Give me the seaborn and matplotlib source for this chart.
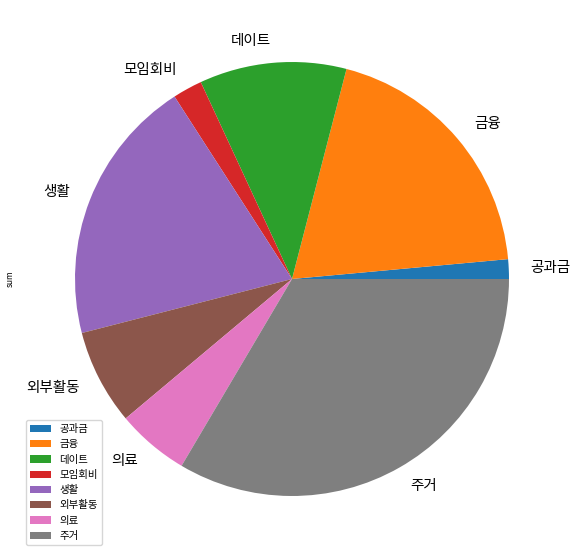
import pandas as pd
import matplotlib
matplotlib.use("Agg")
import matplotlib.pyplot as plt
import seaborn as sns

# ==========================================================
# DATA (share of spending per category)
# ==========================================================

categories = ["공과금", "금융", "데이트", "모임회비", "생활", "외부활동", "의료", "주거"]
amounts = [1.46, 19.5, 10.95, 2.2, 19.9, 7.1, 5.4, 33.5]

df = pd.DataFrame({"sum": amounts}, index=categories)

# ==========================================================
# STYLE
# ==========================================================

sns.set_theme(style="white")
plt.rcParams["font.family"] = ["Noto Sans CJK KR", "DejaVu Sans"]
plt.rcParams["axes.unicode_minus"] = False
plt.rcParams["text.color"] = "black"
plt.rcParams["axes.labelcolor"] = "black"

colors = sns.color_palette("tab10", len(categories))

# ==========================================================
# PIE
# ==========================================================

fig = plt.figure(figsize=(5.8, 5.58), dpi=100)
ax = fig.add_axes([0.0358, 0.0139, 0.9353, 0.9722])

wedges, texts = ax.pie(
    df["sum"],
    labels=df.index,
    colors=colors,
    startangle=0,
    counterclock=True,
    labeldistance=1.1,
    wedgeprops={"linewidth": 0},
    textprops={"fontsize": 10.5},
)

ax.set_aspect("equal")
ax.set_ylabel("sum", fontsize=6)

ax.legend(
    wedges,
    df.index,
    loc="lower left",
    fontsize=7.5,
    frameon=True,
)

plt.savefig("out.png", dpi=100)
plt.close()
